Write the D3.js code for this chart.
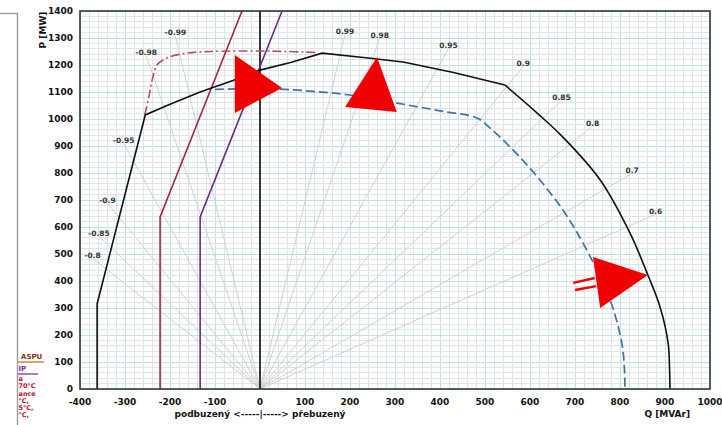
<!DOCTYPE html>
<html>
<head>
<meta charset="utf-8">
<script src="https://cdn.jsdelivr.net/npm/d3@7"></script>
<style>
  body { margin: 0; background: #fff; }
  svg text { font-family: "DejaVu Sans", Verdana, sans-serif; font-weight: bold; }
</style>
</head>
<body>
<div id="chart"></div>
<script>
// capability diagram P-Q
const capQ = [-362, -362, -255, -200, -133, -60, 0, 70, 138, 230, 318, 430, 544, 616, 673, 756, 822, 862, 889, 907, 910, 911];
const capP = [0, 315, 1015, 1055, 1100, 1143, 1181, 1210, 1244, 1228, 1211, 1172, 1126, 1022, 933, 774, 578, 422, 304, 170, 80, 0];
const capArcFrom = 12; // from this point on the curve is a smooth arc

const blueQ = [-100, 0, 44, 120, 200, 304, 400, 482, 511, 556, 607, 673, 726, 778, 804, 810, 811];
const blueP = [1110, 1112, 1111, 1102, 1089, 1059, 1030, 1004, 967, 896, 804, 663, 515, 330, 170, 70, 0];

const dashDotQ = [-256, -246, -238, -229, -207, -162, -111, 0, 60, 130];
const dashDotP = [1015, 1090, 1156, 1200, 1226, 1244, 1250, 1252, 1250, 1246];

const redLimitQ = [-222, -222, -40];
const redLimitP = [0, 637, 1400];
const purpleLimitQ = [-133, -133, 49];
const purpleLimitP = [0, 637, 1400];

const pfLabels = ["0.99", "0.98", "0.95", "0.9", "0.85", "0.8", "0.7", "0.6",
                  "-0.99", "-0.98", "-0.95", "-0.9", "-0.85", "-0.8"];
const rayQ = [189, 266, 419, 585, 670, 739, 827, 879, -188, -253, -303, -339, -358, -372];
const rayP = [1326, 1311, 1274, 1207, 1081, 985, 811, 659, 1319, 1248, 922, 700, 578, 496];

// red annotation arrows (data units)
const arrows = [
  [[-56, 1237], [-56, 1022], [49, 1115]],
  [[260, 1230], [189, 1044], [304, 1026]],
  [[740, 489], [756, 300], [862, 422]]
];
const arrowBars = [
  [[696, 393], [744, 411]],
  [[700, 367], [747, 381]]
];

const legendBits = ["ASPU", "IP", "a", "70°C", "ance", "°C,", "5°C,", "°C,"];
const legendColors = ["#8a2a1a", "#7a2a9a", "#c0102a", "#c0102a", "#c0102a", "#c0102a", "#c0102a", "#c0102a"];

const xDomain = [-400, 1000];
const yDomain = [0, 1400];

const margin = {top: 11, right: 12, bottom: 36, left: 80};
const W = 722, H = 425;
const width = W - margin.left - margin.right;
const height = H - margin.top - margin.bottom;

const svg = d3.select("#chart").append("svg")
  .attr("width", W)
  .attr("height", H);

svg.append("rect").attr("width", W).attr("height", H).attr("fill", "#fff");

const x = d3.scaleLinear().domain(xDomain).range([0, width]);
const y = d3.scaleLinear().domain(yDomain).range([height, 0]);

const g = svg.append("g")
  .attr("transform", "translate(" + margin.left + "," + margin.top + ")");

// grid: minor every 20, major every 100
const minorX = d3.range(xDomain[0], xDomain[1] + 1, 20);
const minorY = d3.range(yDomain[0], yDomain[1] + 1, 20);

g.append("g").selectAll("line").data(minorX).join("line")
  .attr("x1", d => x(d)).attr("x2", d => x(d))
  .attr("y1", 0).attr("y2", height)
  .attr("stroke", d => d % 100 === 0 ? "#c2e2e2" : "#e0e4e8")
  .attr("stroke-width", 1)
  .attr("shape-rendering", "crispEdges");

g.append("g").selectAll("line").data(minorY).join("line")
  .attr("y1", d => y(d)).attr("y2", d => y(d))
  .attr("x1", 0).attr("x2", width)
  .attr("stroke", d => d % 100 === 0 ? "#c2e2e2" : "#e0e4e8")
  .attr("stroke-width", 1)
  .attr("shape-rendering", "crispEdges");

// power factor rays
const rays = g.append("g");
pfLabels.forEach(function (lab, i) {
  rays.append("line")
    .attr("x1", x(0)).attr("y1", y(0))
    .attr("x2", x(rayQ[i])).attr("y2", y(rayP[i] - 12))
    .attr("stroke", "#cacdcd")
    .attr("stroke-width", 0.9);
  rays.append("text")
    .attr("x", x(rayQ[i]))
    .attr("y", y(rayP[i]))
    .attr("dy", "0.35em")
    .attr("text-anchor", "middle")
    .attr("font-size", "7.5px")
    .attr("fill", "#333")
    .text(lab);
});

function series(qs, ps) {
  return qs.map((q, i) => [q, ps[i]]);
}

const line = d3.line()
  .x(d => x(d[0]))
  .y(d => y(d[1]));

const smooth = d3.line()
  .curve(d3.curveCatmullRom.alpha(0.5))
  .x(d => x(d[0]))
  .y(d => y(d[1]));

// Q = 0 axis line
g.append("line")
  .attr("x1", x(0)).attr("x2", x(0))
  .attr("y1", y(0)).attr("y2", y(1400))
  .attr("stroke", "#222").attr("stroke-width", 1.8);

g.append("path")
  .attr("d", line(series(redLimitQ, redLimitP)))
  .attr("fill", "none").attr("stroke", "#a02840").attr("stroke-width", 1.6);

g.append("path")
  .attr("d", line(series(purpleLimitQ, purpleLimitP)))
  .attr("fill", "none").attr("stroke", "#6a2c82").attr("stroke-width", 1.6);

g.append("path")
  .attr("d", smooth(series(dashDotQ, dashDotP)))
  .attr("fill", "none").attr("stroke", "#b05068").attr("stroke-width", 1.6)
  .attr("stroke-dasharray", "9,3,2,3");

g.append("path")
  .attr("d", smooth(series(blueQ, blueP)))
  .attr("fill", "none").attr("stroke", "#3f72a6").attr("stroke-width", 1.7)
  .attr("stroke-dasharray", "9,4");

const cap = series(capQ, capP);
g.append("path")
  .attr("d", line(cap.slice(0, capArcFrom + 1)))
  .attr("fill", "none").attr("stroke", "#111").attr("stroke-width", 1.6);
g.append("path")
  .attr("d", smooth(cap.slice(capArcFrom)))
  .attr("fill", "none").attr("stroke", "#111").attr("stroke-width", 1.6);

// frame
g.append("rect")
  .attr("width", width).attr("height", height)
  .attr("fill", "none").attr("stroke", "#2b3a33").attr("stroke-width", 1.6);

// ticks
g.append("g").selectAll("text").data(d3.range(-400, 1001, 100)).join("text")
  .attr("x", d => x(d))
  .attr("y", height + 16)
  .attr("text-anchor", "middle")
  .attr("font-size", "9px")
  .attr("fill", "#111")
  .text(d => d);

g.append("g").selectAll("text").data(d3.range(0, 1401, 100)).join("text")
  .attr("x", -7)
  .attr("y", d => y(d))
  .attr("dy", "0.35em")
  .attr("text-anchor", "end")
  .attr("font-size", "9px")
  .attr("fill", "#111")
  .text(d => d);

g.append("text")
  .attr("transform", "translate(-37,19) rotate(-90)")
  .attr("text-anchor", "middle")
  .attr("dy", "0.35em")
  .attr("font-size", "9px")
  .attr("fill", "#111")
  .text("P [MW]");

g.append("text")
  .attr("x", x(0))
  .attr("y", height + 25)
  .attr("dy", "0.35em")
  .attr("text-anchor", "middle")
  .attr("font-size", "9px")
  .attr("fill", "#111")
  .text("podbuzený <-----|-----> přebuzený");

g.append("text")
  .attr("x", x(905))
  .attr("y", height + 25)
  .attr("dy", "0.35em")
  .attr("text-anchor", "middle")
  .attr("font-size", "9px")
  .attr("fill", "#111")
  .text("Q [MVAr]");

// red annotations
g.append("g").selectAll("path").data(arrows).join("path")
  .attr("d", d => "M" + d.map(p => x(p[0]) + "," + y(p[1])).join("L") + "Z")
  .attr("fill", "#f00000");

g.append("g").selectAll("line").data(arrowBars).join("line")
  .attr("x1", d => x(d[0][0])).attr("y1", d => y(d[0][1]))
  .attr("x2", d => x(d[1][0])).attr("y2", d => y(d[1][1]))
  .attr("stroke", "#f00000").attr("stroke-width", 2.5);

// cut-off legend box at the left edge
svg.append("path")
  .attr("d", "M0,13.5H17.5V425")
  .attr("fill", "none").attr("stroke", "#a0a0a0").attr("stroke-width", 1.5);

svg.append("clipPath").attr("id", "legclip")
  .append("rect").attr("x", 18).attr("y", 0).attr("width", 40).attr("height", H);

const leg = svg.append("g").attr("clip-path", "url(#legclip)");
legendBits.forEach(function (t, i) {
  const yy = i < 2 ? 357 + i * 12 : 379 + (i - 2) * 7.2;
  leg.append("text")
    .attr("x", i === 0 ? 21 : 18.5)
    .attr("y", yy)
    .attr("dy", "0.35em")
    .attr("text-anchor", "start")
    .attr("font-size", i < 2 ? "7px" : "6.5px")
    .attr("fill", legendColors[i])
    .text(t);
});
leg.append("line").attr("x1", 17).attr("x2", 44).attr("y1", 362).attr("y2", 362)
  .attr("stroke", "#d08a30").attr("stroke-width", 1.5);
leg.append("line").attr("x1", 17).attr("x2", 38).attr("y1", 374).attr("y2", 374)
  .attr("stroke", "#8a50b0").attr("stroke-width", 1.5);
</script>
</body>
</html>
